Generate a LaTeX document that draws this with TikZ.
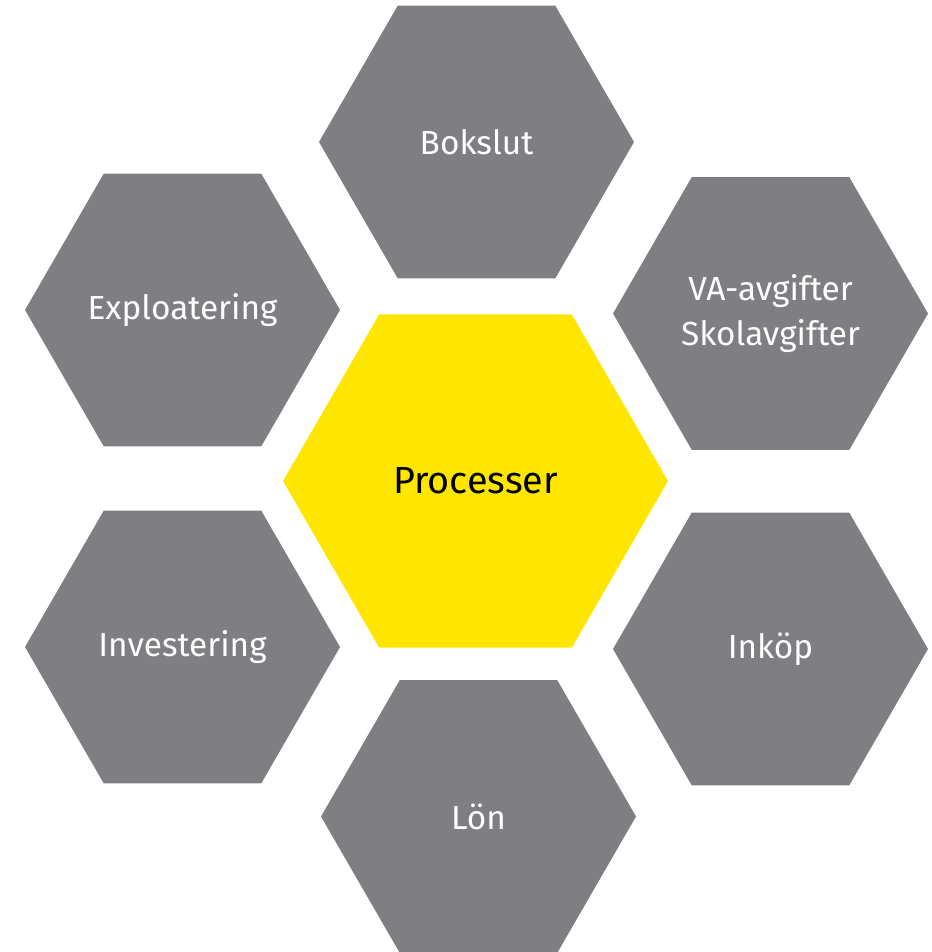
\documentclass[tikz,border=0pt]{standalone}
\usepackage{fontspec}
\setmainfont{Fira Sans}
\usetikzlibrary{shapes.geometric}

\definecolor{hexgray}{HTML}{7F7E82}
\definecolor{hexyellow}{HTML}{FFE600}

\begin{document}
\begin{tikzpicture}[x=0.02cm, y=-0.02cm]
            \tikzset{
                hex/.style={regular polygon, regular polygon sides=6,
                    inner sep=0pt, outer sep=0pt, draw=none, align=center}, % sexkant med platt topp
                side/.style={hex, minimum size=315*0.02cm, fill=hexgray, text=white,
                    font=\fontsize{19}{26}\selectfont},
                middle/.style={hex, minimum size=385*0.02cm, fill=hexyellow, text=black,
                    font=\fontsize{21.5}{25}\selectfont},
            }
            \useasboundingbox (0,0) rectangle (931,952);

            \node[middle] (proc) at (475.5,481) {Processer};
            \node[side] (bok) at (476.5,142) {Bokslut};
            \node[side] (expl) at (182.5,310) {Exploatering};
            \node[side] (va) at (770.5,313.5) {VA-avgifter\\Skolavgifter};
            \node[side] (inv) at (182.5,647) {Investering};
            \node[side] (ink) at (770.5,649) {Inköp};
            \node[side] (lon) at (478.5,816.5) {Lön};
        \end{tikzpicture}
\end{document}
